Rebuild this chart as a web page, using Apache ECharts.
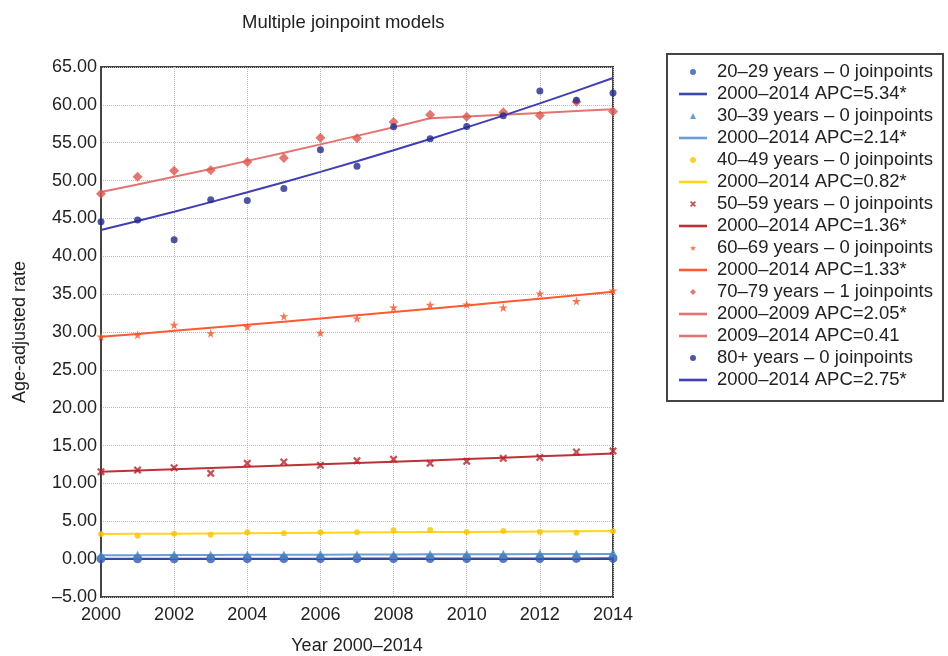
<!DOCTYPE html>
<html>
<head>
<meta charset="utf-8">
<script src="https://cdn.jsdelivr.net/npm/echarts@6/dist/echarts.min.js"></script>
<style>
  html, body { margin: 0; padding: 0; background: #fff; }
  #chart { width: 948px; height: 656px; }
</style>
</head>
<body>
<div id="chart"></div>
<script>
// Years on the x axis
const years = [2000, 2001, 2002, 2003, 2004, 2005, 2006, 2007, 2008, 2009, 2010, 2011, 2012, 2013, 2014];

// Observed age-adjusted rates by age group
const obs20 = [0.04, 0.05, 0.05, 0.05, 0.06, 0.06, 0.07, 0.07, 0.07, 0.08, 0.08, 0.09, 0.09, 0.10, 0.10];
const obs30 = [0.50, 0.52, 0.58, 0.50, 0.55, 0.56, 0.60, 0.55, 0.58, 0.62, 0.64, 0.63, 0.70, 0.68, 0.80];
const obs40 = [3.32, 3.09, 3.36, 3.22, 3.54, 3.41, 3.54, 3.54, 3.80, 3.84, 3.58, 3.71, 3.58, 3.49, 3.67];
const obs50 = [11.55, 11.77, 12.07, 11.33, 12.65, 12.83, 12.39, 13.00, 13.18, 12.65, 12.92, 13.31, 13.44, 14.15, 14.28];
const obs60 = [29.40, 29.63, 30.95, 29.84, 30.69, 32.09, 29.89, 31.79, 33.24, 33.60, 33.64, 33.24, 35.09, 34.08, 35.49];
const obs70 = [48.25, 50.49, 51.30, 51.36, 52.46, 52.99, 55.66, 55.60, 57.72, 58.68, 58.42, 59.04, 58.60, 60.40, 59.12];
const obs80 = [44.57, 44.80, 42.20, 47.46, 47.37, 48.95, 54.08, 51.90, 57.10, 55.53, 57.15, 58.55, 61.84, 60.60, 61.58];

// Modelled (joinpoint) trend values
const fit20 = [0.050, 0.053, 0.056, 0.059, 0.062, 0.065, 0.068, 0.072, 0.076, 0.080, 0.084, 0.089, 0.093, 0.098, 0.104];
const fit30 = [0.52, 0.53, 0.54, 0.55, 0.57, 0.58, 0.59, 0.60, 0.61, 0.63, 0.64, 0.65, 0.67, 0.68, 0.69];
const fit40 = [3.32, 3.35, 3.37, 3.40, 3.43, 3.46, 3.48, 3.51, 3.54, 3.57, 3.60, 3.63, 3.66, 3.69, 3.72];
const fit50 = [11.55, 11.71, 11.87, 12.03, 12.19, 12.36, 12.53, 12.70, 12.87, 13.04, 13.22, 13.40, 13.58, 13.77, 13.96];
const fit60 = [29.36, 29.75, 30.15, 30.55, 30.95, 31.36, 31.78, 32.20, 32.63, 33.06, 33.50, 33.95, 34.40, 34.86, 35.32];
const fit70a = [48.50, 49.49, 50.51, 51.54, 52.60, 53.68, 54.78, 55.90, 57.05, 58.22];          // 2000–2009
const fit70b = [58.22, 58.46, 58.70, 58.94, 59.18, 59.42];                                      // 2009–2014
const fit80 = [43.46, 44.66, 45.89, 47.15, 48.45, 49.78, 51.15, 52.56, 54.00, 55.49, 57.02, 58.58, 60.20, 61.85, 63.55];

// Legend / series labels
const names = {
  s20: '20–29 years – 0 joinpoints', f20: '2000–2014 APC=5.34*',
  s30: '30–39 years – 0 joinpoints', f30: '2000–2014 APC=2.14*',
  s40: '40–49 years – 0 joinpoints', f40: '2000–2014 APC=0.82*',
  s50: '50–59 years – 0 joinpoints', f50: '2000–2014 APC=1.36*',
  s60: '60–69 years – 0 joinpoints', f60: '2000–2014 APC=1.33*',
  s70: '70–79 years – 1 joinpoints', f70a: '2000–2009 APC=2.05*', f70b: '2009–2014 APC=0.41',
  s80: '80+ years – 0 joinpoints', f80: '2000–2014 APC=2.75*'
};

const pair = (xs, ys) => ys.map((v, i) => [xs[i], v]);

// Marker shapes
const STAR = 'path://M50,0 L61,35 L98,35 L68,57 L79,91 L50,70 L21,91 L32,57 L2,35 L39,35 Z';
const CROSS = 'path://M2,0 L5,3 L8,0 L10,2 L7,5 L10,8 L8,10 L5,7 L2,10 L0,8 L3,5 L0,2 Z';
const TRI = 'path://M5,0 L10,10 L0,10 Z';
const DIAM = 'path://M5,0 L10,5 L5,10 L0,5 Z';
const BAR = 'path://M0,0 L28,0 L28,2.6 L0,2.6 Z';

function scatter(name, data, color, symbol, size) {
  return {
    name, type: 'scatter', data: pair(years, data), symbol, symbolSize: size, z: 4,
    itemStyle: { color }
  };
}
function trend(name, xs, data, color) {
  return {
    name, type: 'line', data: pair(xs, data), symbol: 'none', z: 3,
    lineStyle: { color, width: 2 }, itemStyle: { color }
  };
}

const FONT = 'Liberation Sans, Arial, sans-serif';

const legendItems = [
  { name: names.s20, icon: 'circle' }, { name: names.f20, icon: BAR },
  { name: names.s30, icon: TRI },      { name: names.f30, icon: BAR },
  { name: names.s40, icon: 'circle' }, { name: names.f40, icon: BAR },
  { name: names.s50, icon: CROSS },    { name: names.f50, icon: BAR },
  { name: names.s60, icon: STAR },     { name: names.f60, icon: BAR },
  { name: names.s70, icon: DIAM },     { name: names.f70a, icon: BAR }, { name: names.f70b, icon: BAR },
  { name: names.s80, icon: 'circle' }, { name: names.f80, icon: BAR }
];

const chart = echarts.init(document.getElementById('chart'));
chart.setOption({
  animation: false,
  backgroundColor: '#fff',
  title: {
    text: 'Multiple joinpoint models',
    left: 237, top: 8,
    textStyle: { fontFamily: FONT, fontSize: 18.5, fontWeight: 'normal', color: '#222' }
  },
  grid: {
    left: 101, right: 335, top: 67, bottom: 59,
    outerBoundsMode: 'none',
    show: true, borderColor: '#444', borderWidth: 2, backgroundColor: '#fff'
  },
  legend: {
    orient: 'vertical',
    left: 667, top: 54,
    padding: [7, 10, 10, 12],
    itemGap: 0,
    itemWidth: 28, itemHeight: 6,
    borderColor: '#444', borderWidth: 2, backgroundColor: '#fff',
    textStyle: { fontFamily: FONT, fontSize: 18.5, color: '#222', lineHeight: 22, padding: [0, 0, 0, 5] },
    data: legendItems
  },
  xAxis: {
    type: 'value', min: 2000, max: 2014, interval: 2,
    name: 'Year 2000–2014', nameLocation: 'middle', nameGap: 40,
    nameTextStyle: { fontFamily: FONT, fontSize: 18, color: '#222' },
    axisLine: { show: true, lineStyle: { color: '#444', width: 2 } },
    axisTick: { show: false },
    axisLabel: { fontFamily: FONT, fontSize: 18, color: '#222', margin: 9, formatter: v => String(v) },
    splitLine: { show: true, lineStyle: { color: '#bbb', type: 'dotted', width: 1 } }
  },
  yAxis: {
    type: 'value', min: -5, max: 65, interval: 5,
    name: 'Age-adjusted rate', nameLocation: 'middle', nameGap: 72,
    nameTextStyle: { fontFamily: FONT, fontSize: 18, color: '#222' },
    axisLine: { show: true, lineStyle: { color: '#444', width: 2 } },
    axisTick: { show: false },
    axisLabel: {
      fontFamily: FONT, fontSize: 18, color: '#222', margin: 4,
      formatter: v => (v < 0 ? '–' : '') + Math.abs(v).toFixed(2)
    },
    splitLine: { show: true, lineStyle: { color: '#bbb', type: 'dotted', width: 1 } }
  },
  series: [
    scatter(names.s20, obs20, '#3656b0', 'circle', 9),
    trend(names.f20, years, fit20, '#3a4aa8'),
    scatter(names.s30, obs30, '#4a86c2', TRI, 9),
    trend(names.f30, years, fit30, '#6a9fd4'),
    scatter(names.s40, obs40, '#f7c600', 'circle', 6),
    trend(names.f40, years, fit40, '#ffd51a'),
    scatter(names.s50, obs50, '#b5262c', CROSS, 8),
    trend(names.f50, years, fit50, '#bb3338'),
    scatter(names.s60, obs60, '#f5542a', STAR, 9),
    trend(names.f60, years, fit60, '#ff5a30'),
    scatter(names.s70, obs70, '#d9574f', DIAM, 10),
    trend(names.f70a, years.slice(0, 10), fit70a, '#e37471'),
    trend(names.f70b, years.slice(9), fit70b, '#e37471'),
    scatter(names.s80, obs80, '#232b8c', 'circle', 7),
    trend(names.f80, years, fit80, '#3f3fb3')
  ]
});
</script>
</body>
</html>
